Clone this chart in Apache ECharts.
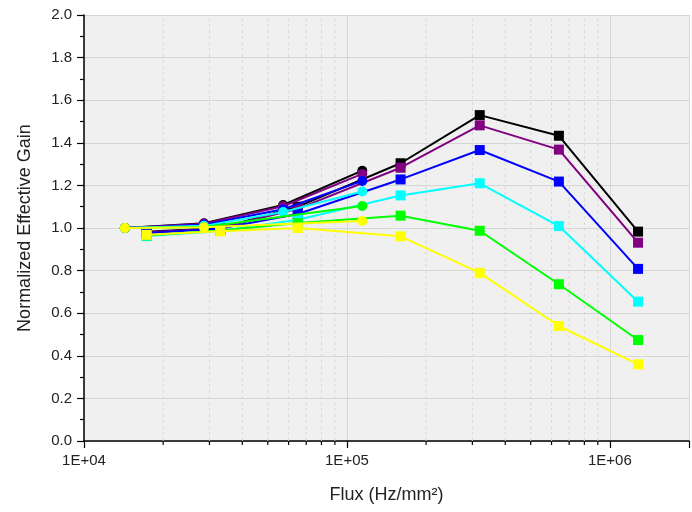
<!DOCTYPE html>
<html>
<head>
<meta charset="utf-8">
<script src="https://cdn.jsdelivr.net/npm/echarts@6/dist/echarts.min.js"></script>
<style>html,body{margin:0;padding:0;background:#fff}#c{width:692px;height:512px}</style>
</head>
<body>
<div id="c"></div>
<script>
// Flux positions (Hz/mm^2)
const circX = [14300, 28600, 57200, 114400];
const sqX = [17300, 33000, 65000, 160000, 320000, 640000, 1280000];

// Circle series (null = no point)
const circBlack  = [1.000, 1.022, 1.108, 1.269];
const circPurple = [1.000, 1.020, 1.102, 1.254];
const circBlue   = [1.000, 1.015, 1.088, 1.221];
const circCyan   = [1.000, 1.010, 1.075, 1.171];
const circGreen  = [1.000, 1.005, null, 1.103];
const circYellow = [1.000, 1.003, null, 1.033];

// Square series
const sqBlack  = [0.982, 1.000, 1.100, 1.304, 1.530, 1.433, 0.983];
const sqPurple = [0.979, 1.000, 1.090, 1.283, 1.482, 1.368, 0.931];
const sqBlue   = [0.975, 0.998, 1.066, 1.228, 1.366, 1.218, 0.808];
const sqCyan   = [0.962, 0.986, 1.039, 1.153, 1.210, 1.009, 0.654];
const sqGreen  = [0.965, 0.988, 1.023, 1.058, 0.987, 0.736, 0.474];
const sqYellow = [0.968, 0.985, 1.000, 0.961, 0.789, 0.540, 0.360];

// Minor x tick positions
const minorX = [2e4,3e4,4e4,5e4,6e4,7e4,8e4,9e4,2e5,3e5,4e5,5e5,6e5,7e5,8e5,9e5];
const xTickLabels = {4: '1E+04', 5: '1E+05', 6: '1E+06'};

const colors = ['#000000', '#800080', '#0000ff', '#00ffff', '#00ff00', '#ffff00'];
const circSets = [circBlack, circPurple, circBlue, circCyan, circGreen, circYellow];
const sqSets = [sqBlack, sqPurple, sqBlue, sqCyan, sqGreen, sqYellow];

const FONT = 'Liberation Sans, Arial, sans-serif';

function pair(xs, ys) { return xs.map((x, i) => [x, ys[i]]); }

const series = [];
series.push({
  type: 'custom',
  silent: true,
  z: 1,
  clip: false,
  data: minorX.map(v => [v, 0]),
  renderItem: function (params, api) {
    const v = api.value(0);
    const p0 = api.coord([v, 0]);
    const p1 = api.coord([v, 2]);
    return {
      type: 'group',
      children: [
        {type: 'line', shape: {x1: p0[0], y1: p0[1], x2: p1[0], y2: p1[1]},
         style: {stroke: '#d8d8d8', lineWidth: 1, lineDash: [3, 3]}},
        {type: 'line', shape: {x1: p0[0], y1: p0[1], x2: p0[0], y2: p0[1] + 4},
         style: {stroke: '#000', lineWidth: 1.2}}
      ]
    };
  }
});
for (let i = 0; i < 6; i++) {
  series.push({
    type: 'line', data: pair(circX, circSets[i]), connectNulls: true,
    symbol: 'circle', symbolSize: 10, showSymbol: true,
    lineStyle: {color: colors[i], width: 2}, itemStyle: {color: colors[i]},
    z: 2 + i, animation: false
  });
}
for (let i = 0; i < 6; i++) {
  series.push({
    type: 'line', data: pair(sqX, sqSets[i]),
    symbol: 'rect', symbolSize: 10, showSymbol: true,
    lineStyle: {color: colors[i], width: 2}, itemStyle: {color: colors[i]},
    z: 2 + i, animation: false
  });
}

const chart = echarts.init(document.getElementById('c'));
chart.setOption({
  animation: false,
  backgroundColor: '#ffffff',
  grid: {left: 84, right: 2, top: 15, bottom: 71, show: true, backgroundColor: '#f0f0f0', borderWidth: 0},
  xAxis: {
    type: 'log', logBase: 10, min: 1e4, max: 2e6,
    name: 'Flux (Hz/mm²)', nameLocation: 'middle', nameGap: 45,
    nameTextStyle: {fontFamily: FONT, fontSize: 18, color: '#222'},
    axisLine: {show: true, onZero: false, lineStyle: {color: '#000', width: 1.5}},
    axisTick: {show: true, length: 7, inside: false, lineStyle: {color: '#000', width: 1.2}},
    axisLabel: {
      fontFamily: FONT, fontSize: 15, color: '#222', margin: 12,
      formatter: function (v) {
        const e = Math.round(Math.log10(v));
        return (Math.abs(Math.log10(v) - e) < 1e-6 && xTickLabels[e]) ? xTickLabels[e] : '';
      }
    },
    splitLine: {show: true, lineStyle: {color: '#d6d6d6', width: 1}}
  },
  yAxis: {
    type: 'value', min: 0, max: 2, interval: 0.2,
    name: 'Normalized Effective Gain', nameLocation: 'middle', nameGap: 50, nameRotate: 90,
    nameTextStyle: {fontFamily: FONT, fontSize: 18, color: '#222'},
    axisLine: {show: true, lineStyle: {color: '#000', width: 1.5}},
    axisTick: {show: true, length: 7, inside: false, lineStyle: {color: '#000', width: 1.2}},
    minorTick: {show: true, splitNumber: 2, length: 4, lineStyle: {color: '#000', width: 1.2}},
    axisLabel: {fontFamily: FONT, fontSize: 15, color: '#222', margin: 12,
      formatter: function (v) { return v.toFixed(1); }},
    splitLine: {show: true, lineStyle: {color: '#d6d6d6', width: 1}}
  },
  series: series
});
</script>
</body>
</html>
